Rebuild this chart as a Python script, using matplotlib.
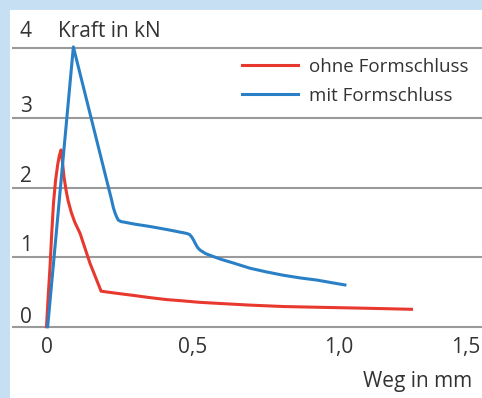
import matplotlib
matplotlib.use("Agg")
import matplotlib.pyplot as plt
import matplotlib.transforms as mtransforms
from matplotlib.patches import Rectangle

# ---- data ----
red_x = [0.0, 0.006, 0.012, 0.018, 0.024, 0.031, 0.038, 0.044, 0.050, 0.055, 0.060,
         0.067, 0.074, 0.085, 0.097, 0.115, 0.149, 0.187,
         0.24, 0.297, 0.35, 0.41, 0.47, 0.525, 0.61, 0.697, 0.81, 0.92, 1.04, 1.15, 1.25]
red_y = [0.0, 0.45, 0.86, 1.35, 1.78, 2.10, 2.32, 2.46, 2.54, 2.35, 2.15,
         1.96, 1.81, 1.64, 1.50, 1.34, 0.91, 0.51,
         0.48, 0.45, 0.42, 0.39, 0.37, 0.35, 0.33, 0.31, 0.29, 0.28, 0.27, 0.26, 0.25]
blue_x = [0.004, 0.092, 0.223, 0.229, 0.235, 0.241, 0.246, 0.256, 0.269, 0.30, 0.354,
          0.42, 0.48, 0.490, 0.497, 0.503, 0.509, 0.517, 0.526, 0.545, 0.57, 0.60,
          0.64, 0.697, 0.75, 0.81, 0.87, 0.926, 0.98, 1.022]
blue_y = [0.0, 4.02, 1.82, 1.71, 1.63, 1.57, 1.53, 1.51, 1.50, 1.475, 1.44,
          1.39, 1.34, 1.325, 1.29, 1.25, 1.20, 1.14, 1.10, 1.05, 1.01, 0.965,
          0.915, 0.84, 0.79, 0.74, 0.70, 0.67, 0.63, 0.60]
series_labels = ["ohne Formschluss", "mit Formschluss"]
x_ticks = [0, 0.5, 1.0, 1.5]
x_ticklabels = ["0", "0,5", "1,0", "1,5"]
y_ticks = [0, 1, 2, 3, 4]
y_ticklabels = ["0", "1", "2", "3", "4"]
y_title = "Kraft in kN"
x_title = "Weg in mm"

# ---- style ----
W, H = 482, 398
DPI = 100
BG = "#c7dff3"
TXT = "#333333"
RED = "#e8392f"
BLUE = "#2a80c6"
GRID = "#9a9a9a"
FONT = "Open Sans"
plt.rcParams["font.family"] = [FONT, "DejaVu Sans"]

fig = plt.figure(figsize=(W / DPI, H / DPI), dpi=DPI, facecolor=BG)
# white panel
fig.add_artist(Rectangle((10 / W, 0), 1, (H - 10) / H, transform=fig.transFigure,
                         facecolor="white", edgecolor="none", zorder=0))

# axes geometry in pixels
ax_left, ax_right, ax_top, ax_bottom = 12, 490, 40, 340
x0_px, x_scale = 46.5, 292.0
y0_px, y_scale = 326.7, 69.6
ax = fig.add_axes([ax_left / W, (H - ax_bottom) / H, (ax_right - ax_left) / W,
                   (ax_bottom - ax_top) / H])
ax.set_facecolor("none")
ax.set_xlim(-(x0_px - ax_left) / x_scale, (ax_right - x0_px) / x_scale)
ax.set_ylim(-(ax_bottom - y0_px) / y_scale, (y0_px - ax_top) / y_scale)
for s in ax.spines.values():
    s.set_visible(False)
ax.set_xticks([])
ax.set_yticks(y_ticks)
ax.tick_params(axis="y", length=0, labelleft=False)
ax.yaxis.grid(True, color=GRID, linewidth=1.5)
ax.set_axisbelow(True)

l1, = ax.plot(red_x, red_y, color=RED, lw=2.2, solid_joinstyle="round",
              label=series_labels[0], clip_on=False)
l2, = ax.plot(blue_x, blue_y, color=BLUE, lw=2.2, solid_joinstyle="round",
              label=series_labels[1], clip_on=False)

# pixel-based helper transform (origin top-left)
pix = mtransforms.Affine2D().scale(1, -1).translate(0, H)

# y tick labels above grid lines
y_offsets = [4, 6, 5, 6, 11]
for v, lab, off in zip(y_ticks, y_ticklabels, y_offsets):
    t = mtransforms.offset_copy(ax.transData, fig=fig, x=0, y=off, units="dots")
    fig.text(26 / W, v, lab, ha="center", va="baseline", fontsize=15, color=TXT,
             transform=mtransforms.blended_transform_factory(fig.transFigure, t))

# x tick labels
bt = mtransforms.blended_transform_factory(ax.transData, pix)
for v, lab in zip(x_ticks, x_ticklabels):
    if v == x_ticks[-1]:
        t = mtransforms.offset_copy(bt, fig=fig, x=-4.5, y=0, units="dots")
        ax.text(v, 353, lab, ha="right", va="baseline", fontsize=15, color=TXT,
                transform=t, clip_on=False)
    else:
        ax.text(v, 353, lab, ha="center", va="baseline", fontsize=15, color=TXT,
                transform=bt, clip_on=False)

fig.text(58, 37, y_title, ha="left", va="baseline", fontsize=15, color=TXT, transform=pix)
fig.text(472, 387, x_title, ha="right", va="baseline", fontsize=15, color=TXT, transform=pix)

leg = ax.legend(handles=[l1, l2], loc="upper left",
                bbox_to_anchor=(242 / W, (H - 58) / H), bbox_transform=fig.transFigure,
                frameon=False, fontsize=13.5, handlelength=2.99, handletextpad=0.58,
                labelspacing=0.58, borderpad=0, borderaxespad=0)
for t in leg.get_texts():
    t.set_color(TXT)

fig.savefig("out.png", dpi=DPI, facecolor=BG)
